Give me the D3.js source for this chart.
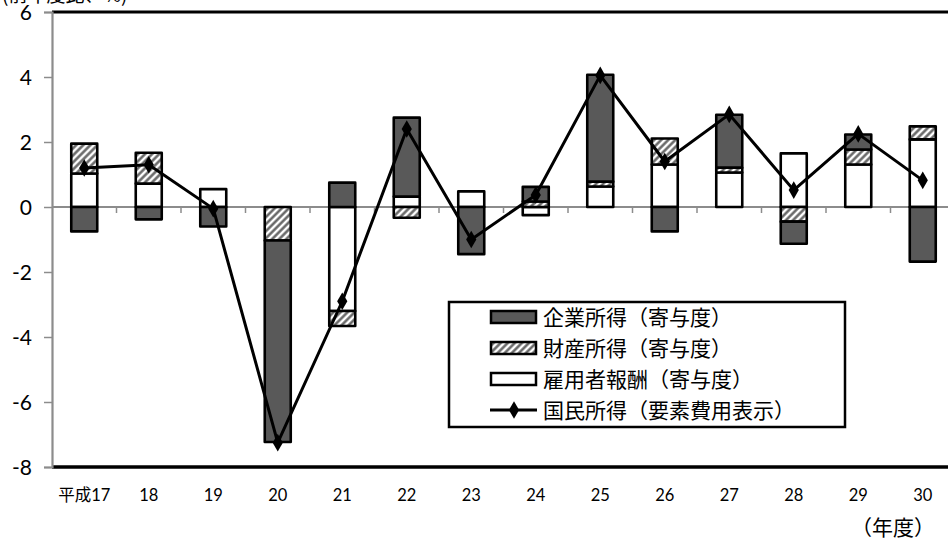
<!DOCTYPE html>
<html>
<head>
<meta charset="utf-8">
<script src="https://cdn.jsdelivr.net/npm/d3@7"></script>
<style>
  html, body { margin: 0; padding: 0; background: #fff; }
  svg { display: block; }
  text { font-family: "Lato", "Noto Sans CJK JP", sans-serif; fill: #000; }
  .cjk { font-family: "Noto Sans CJK JP", sans-serif; }
</style>
</head>
<body>
<svg id="chart" width="948" height="545"></svg>
<script>
// Fiscal years (Heisei)
const categories = ["平成17", "18", "19", "20", "21", "22", "23", "24", "25", "26", "27", "28", "29", "30"];
// Contributions to national income growth (percentage points)
const employeeComp = [1.03, 0.72, 0.55, 0.0, -3.2, 0.32, 0.48, -0.25, 0.63, 1.31, 1.06, 1.65, 1.31, 2.08];
const propertyIncome = [0.92, 0.95, 0.0, -1.03, -0.46, -0.33, 0.0, 0.17, 0.15, 0.8, 0.15, -0.45, 0.46, 0.4];
const corporateIncome = [-0.75, -0.38, -0.6, -6.2, 0.75, 2.43, -1.45, 0.45, 3.29, -0.75, 1.63, -0.68, 0.46, -1.68];
// National income (factor cost), year-on-year %
const nationalIncome = [1.2, 1.3, -0.05, -7.25, -2.9, 2.4, -1.0, 0.37, 4.05, 1.4, 2.85, 0.52, 2.25, 0.82];
const yTicks = [-8, -6, -4, -2, 0, 2, 4, 6];

const seriesNames = {
  corp: "企業所得（寄与度）",
  prop: "財産所得（寄与度）",
  emp: "雇用者報酬（寄与度）",
  ni: "国民所得（要素費用表示）"
};

const svg = d3.select("#chart");
const plotLeft = 52, plotTop = 12, plotBottom = 467;
const bandW = 64.5;

const x = d3.scaleBand()
  .domain(categories)
  .range([plotLeft, plotLeft + bandW * categories.length])
  .paddingInner(0).paddingOuter(0);

const y = d3.scaleLinear().domain([-8, 6]).range([plotBottom, plotTop]);

// hatch pattern
const defs = svg.append("defs");
const pat = defs.append("pattern")
  .attr("id", "hatch")
  .attr("patternUnits", "userSpaceOnUse")
  .attr("width", 5).attr("height", 5)
  .attr("patternTransform", "rotate(45)");
pat.append("rect").attr("width", 5).attr("height", 5).attr("fill", "#fff");
pat.append("line").attr("x1", 1.5).attr("y1", 0).attr("x2", 1.5).attr("y2", 5)
  .attr("stroke", "#5e5e5e").attr("stroke-width", 2.4);

const fills = { emp: "#ffffff", prop: "url(#hatch)", corp: "#595959" };

// stacked data
const rows = categories.map((c, i) => ({
  cat: c, emp: employeeComp[i], prop: propertyIncome[i], corp: corporateIncome[i]
}));
const stack = d3.stack().keys(["emp", "prop", "corp"]).offset(d3.stackOffsetDiverging);
const stacked = stack(rows);

// plot frame: top and bottom borders
svg.append("line").attr("x1", plotLeft).attr("x2", 948).attr("y1", plotTop).attr("y2", plotTop)
  .attr("stroke", "#000").attr("stroke-width", 3);
svg.append("line").attr("x1", plotLeft).attr("x2", 948).attr("y1", plotBottom).attr("y2", plotBottom)
  .attr("stroke", "#000").attr("stroke-width", 3.5);

// zero line with category ticks
svg.append("line").attr("x1", plotLeft).attr("x2", 948).attr("y1", y(0)).attr("y2", y(0))
  .attr("stroke", "#8c8c8c").attr("stroke-width", 2);
svg.append("g").selectAll("line")
  .data(categories.slice(1))
  .join("line")
  .attr("x1", d => x(d)).attr("x2", d => x(d))
  .attr("y1", y(0)).attr("y2", y(0) + 6)
  .attr("stroke", "#8c8c8c").attr("stroke-width", 1.5);

// bars
const barW = 26;
const gBars = svg.append("g");
stacked.forEach(layer => {
  gBars.selectAll(null)
    .data(layer.filter(d => d[1] - d[0] !== 0))
    .join("rect")
    .attr("x", d => x(d.data.cat) + bandW / 2 - barW / 2)
    .attr("width", barW)
    .attr("y", d => y(d[1]))
    .attr("height", d => y(d[0]) - y(d[1]))
    .attr("fill", fills[layer.key])
    .attr("stroke", "#000")
    .attr("stroke-width", 2.6)
    .attr("stroke-linejoin", "round");
});

// y axis
const yAxis = d3.axisLeft(y).tickValues(yTicks).tickSize(8).tickPadding(12).tickFormat(d => String(d));
const gy = svg.append("g").attr("transform", `translate(${plotLeft},0)`).call(yAxis);
gy.select(".domain").attr("stroke", "#8c8c8c").attr("stroke-width", 2.2);
gy.selectAll(".tick line").attr("stroke", "#8c8c8c").attr("stroke-width", 1.5);
gy.selectAll(".tick text").style("font-size", "21px").attr("dy", "0.36em");

// x labels
const gx = svg.append("g").attr("transform", `translate(0,${plotBottom})`)
  .call(d3.axisBottom(x).tickSize(0).tickPadding(22));
gx.select(".domain").remove();
gx.selectAll(".tick text").style("font-size", "16.5px");

// national income line
const line = d3.line()
  .x((d, i) => x(categories[i]) + bandW / 2)
  .y(d => y(d));
svg.append("path").datum(nationalIncome)
  .attr("d", line).attr("fill", "none")
  .attr("stroke", "#000").attr("stroke-width", 3).attr("stroke-linejoin", "round");
const diamond = d3.symbol().type(d3.symbolDiamond).size(90);
svg.append("g").selectAll("path")
  .data(nationalIncome)
  .join("path")
  .attr("d", diamond)
  .attr("transform", (d, i) => `translate(${x(categories[i]) + bandW / 2},${y(d)})`)
  .attr("fill", "#000");

// unit label (partly above the frame)
svg.append("text").attr("class", "cjk").attr("x", 2).attr("y", 2).style("font-size", "19px")
  .text("(前年度比、%)");

// year unit label
svg.append("text").attr("class", "cjk").attr("x", 893).attr("y", 535).attr("text-anchor", "middle")
  .style("font-size", "21px").text("（年度）");

// legend
const lg = svg.append("g");
lg.append("rect").attr("x", 449).attr("y", 302).attr("width", 396).attr("height", 125)
  .attr("fill", "#fff").attr("stroke", "#000").attr("stroke-width", 2.5);
const legendItems = [
  { key: "corp", cy: 317 },
  { key: "prop", cy: 348 },
  { key: "emp", cy: 379 },
  { key: "ni", cy: 410 }
];
legendItems.forEach(it => {
  if (it.key === "ni") {
    lg.append("line").attr("x1", 490).attr("x2", 537).attr("y1", it.cy).attr("y2", it.cy)
      .attr("stroke", "#000").attr("stroke-width", 3);
    lg.append("path").attr("d", diamond).attr("transform", `translate(514,${it.cy})`).attr("fill", "#000");
  } else {
    lg.append("rect").attr("x", 491).attr("y", it.cy - 6).attr("width", 45).attr("height", 12)
      .attr("fill", fills[it.key]).attr("stroke", "#000").attr("stroke-width", 2.5);
  }
  lg.append("text").attr("class", "cjk").attr("x", 543).attr("y", it.cy).attr("dy", "0.36em")
    .style("font-size", "21px").text(seriesNames[it.key]);
});
</script>
</body>
</html>
